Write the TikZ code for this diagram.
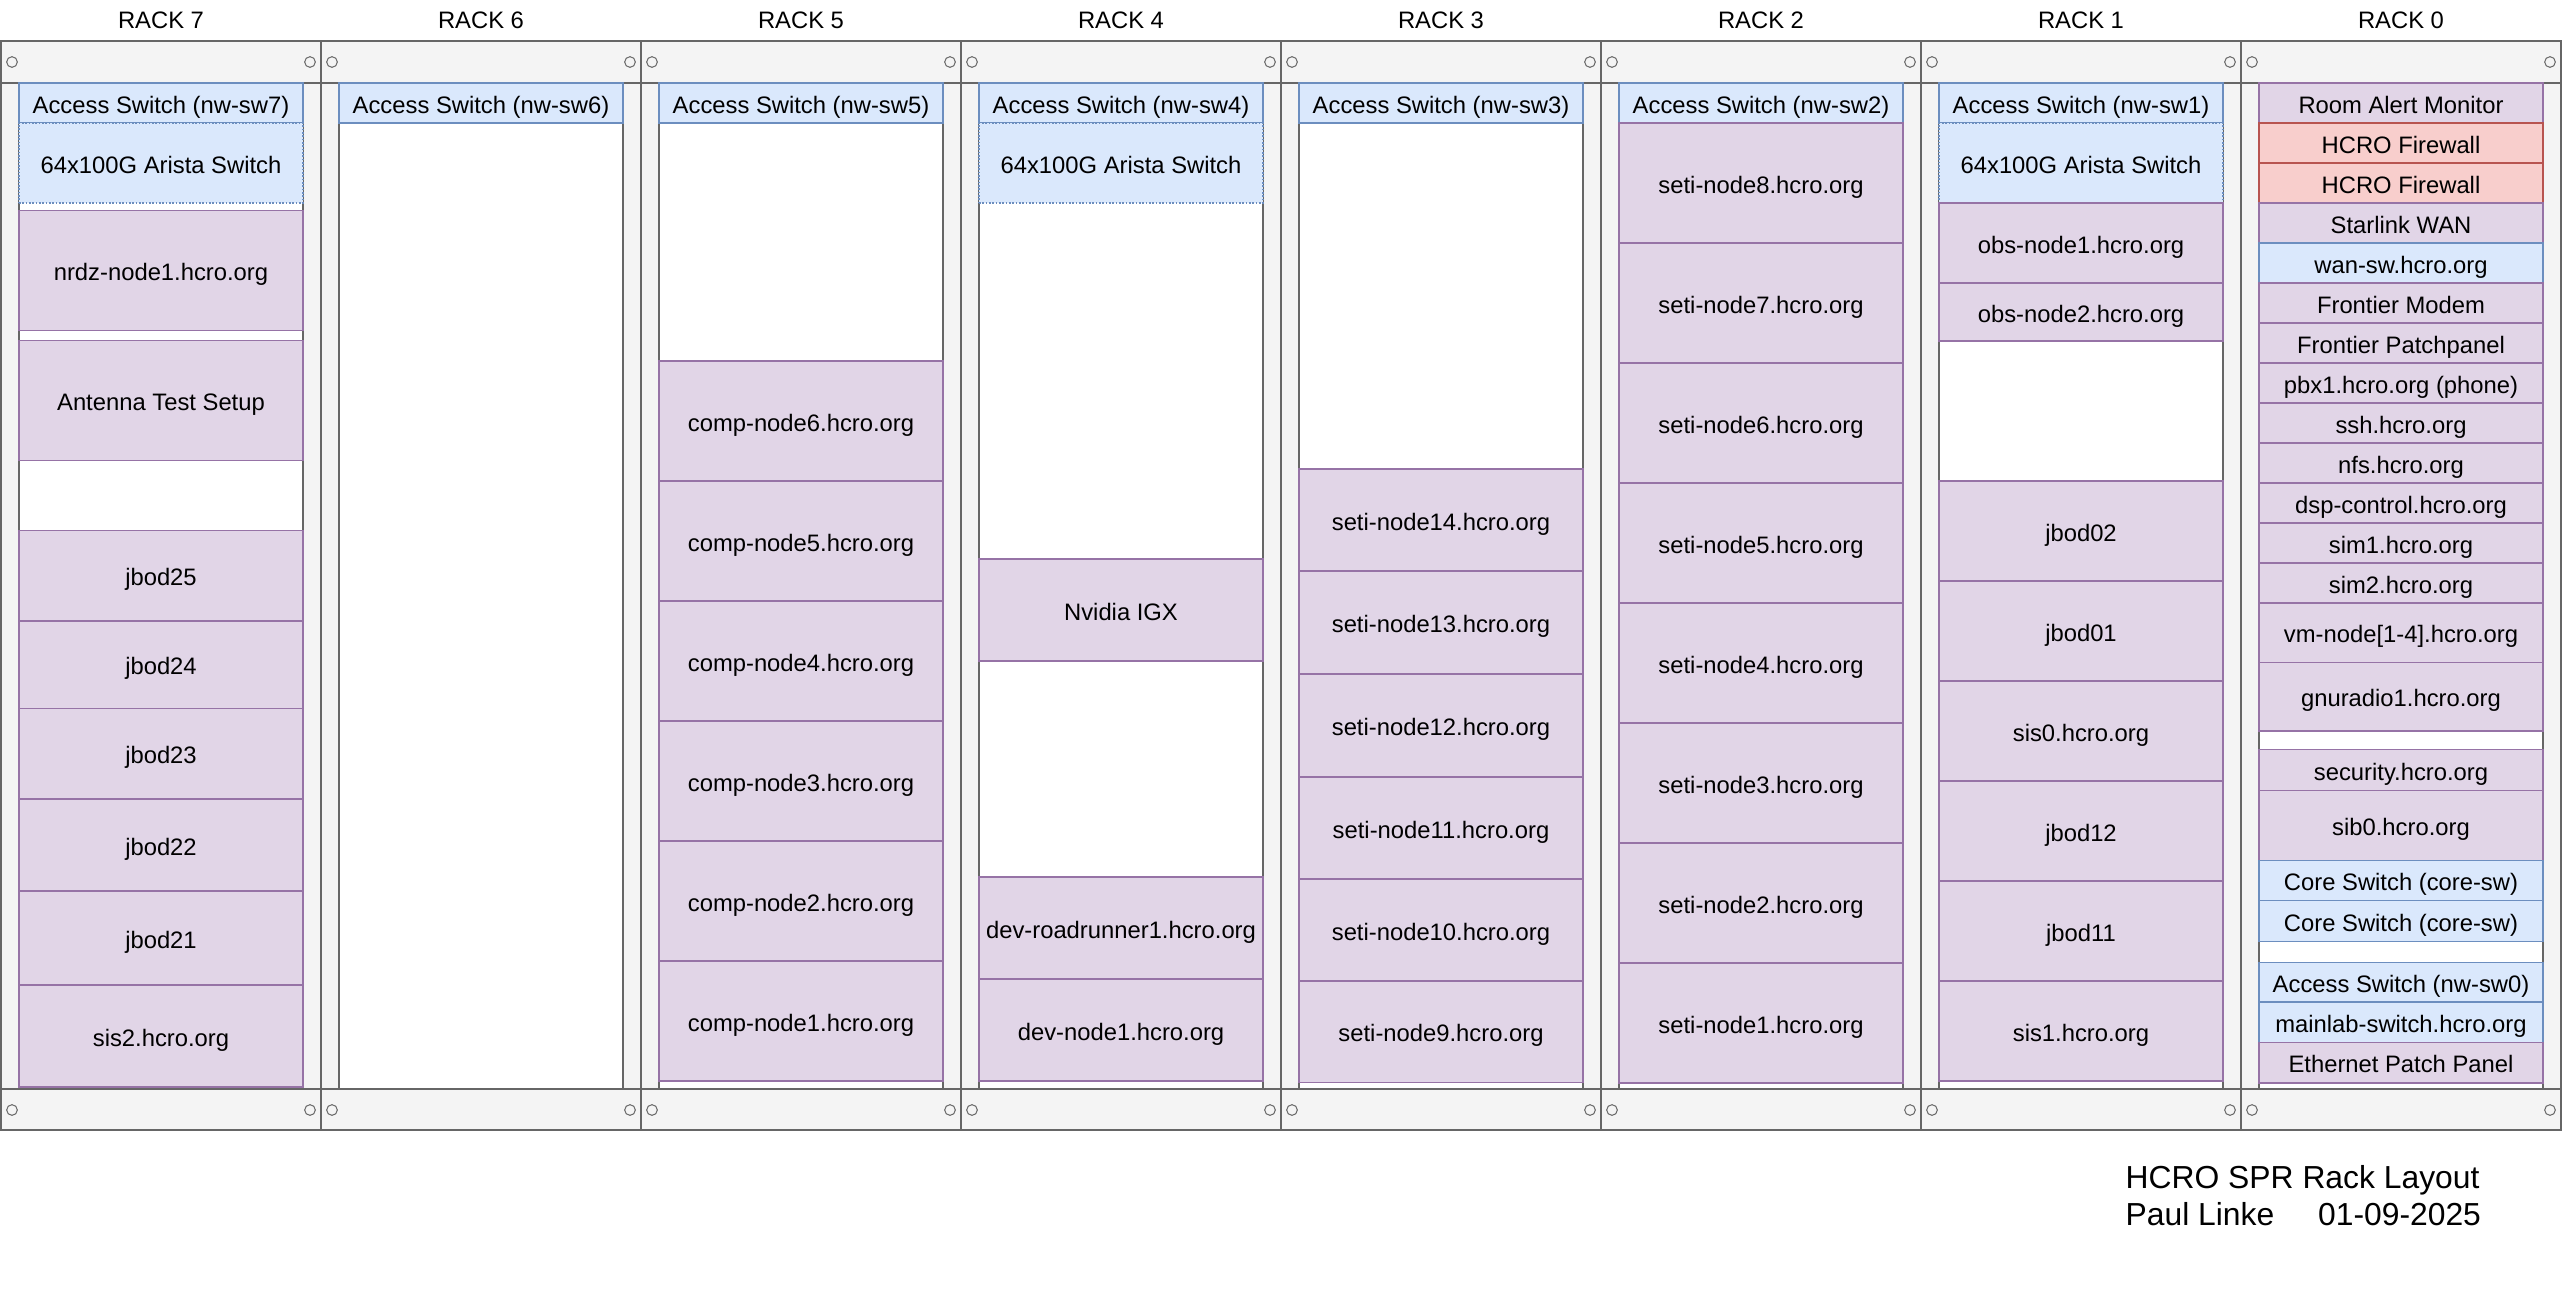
\documentclass[tikz,border=0pt]{standalone}
\usepackage{fontspec}
\setmainfont{Liberation Sans}
\definecolor{railfill}{HTML}{F4F4F4}
\definecolor{framec}{HTML}{666666}
\definecolor{purf}{HTML}{E1D5E7}
\definecolor{purd}{HTML}{9673A6}
\definecolor{bluf}{HTML}{DAE8FC}
\definecolor{blud}{HTML}{6C8EBF}
\definecolor{redf}{HTML}{F8CECC}
\definecolor{redd}{HTML}{B85450}
\tikzset{
  devbox/.style={draw, inner sep=0pt, line width=0.4pt, text=black,
    minimum width=85.2pt, text height=0.6em, text depth=0pt,
    font=\fontsize{7.14}{8.5}\selectfont},
  pur/.style={fill=purf, draw=purd},
  blu/.style={fill=bluf, draw=blud},
  bludot/.style={fill=bluf, draw=blud, dash pattern=on 0.5pt off 0.5pt},
  redbox/.style={fill=redf, draw=redd},
  racklab/.style={anchor=base, inner sep=0pt, text=black,
    font=\fontsize{7.14}{8.5}\selectfont},
  titletext/.style={anchor=base west, inner sep=0pt, text=black,
    font=\fontsize{9.55}{11}\selectfont},
  framel/.style={draw=framec, line width=0.6pt},
  holel/.style={draw=framec, line width=0.3pt},
}
\newcommand\dev[6][pur]{%
  \pgfmathsetmacro\xc{#3+160}\pgfmathsetmacro\yc{(#4+#5)/2}%
  \pgfmathsetmacro\hh{(#5-#4)*0.3}%
  \node[devbox,#1,minimum height=\hh pt] (#2) at (\xc,\yc) {#6};}
\begin{document}
\begin{tikzpicture}[x=0.3pt,y=-0.3pt]
\useasboundingbox (0,0) rectangle (2562,1290);
\fill[white] (0,0) rectangle (2562,1290);
% racks
\foreach \p/\n in {0/7,1/6,2/5,3/4,4/3,5/2,6/1,7/0}{
  \pgfmathsetmacro\xo{1+320*\p}
  \fill[railfill] (\xo,41) rectangle ({\xo+320},1130);
  \draw[framel] (\xo,41) rectangle ({\xo+320},1130);
  \draw[framel] (\xo,83) -- ({\xo+320},83) (\xo,1089) -- ({\xo+320},1089);
  \draw[draw=framec, line width=0.45pt, fill=white] ({\xo+18},83) rectangle ({\xo+302},1089);
  \foreach \yy in {62,1110}{
    \draw[holel] ({\xo+11},\yy) circle[radius=1.6pt];
    \draw[holel] ({\xo+309},\yy) circle[radius=1.6pt];
  }
  \node[racklab] (lab\n) at ({\xo+160},28.3) {RACK \n};
}
% rack 7
\dev[blu]{sw7}{1}{83}{123}{Access Switch (nw-sw7)}
\dev[bludot]{ar7}{1}{123}{203}{64x100G Arista Switch}
\dev{nrdz}{1}{210.7}{330.7}{nrdz-node1.hcro.org}
\dev{ant}{1}{340.7}{460.7}{Antenna Test Setup}
\dev{jb25}{1}{530.7}{621}{jbod25}
\dev{jb24}{1}{621}{708.7}{jbod24}
\dev{jb23}{1}{708.7}{799}{jbod23}
\dev{jb22}{1}{799}{891}{jbod22}
\dev{jb21}{1}{891}{985}{jbod21}
\dev{sis2}{1}{985}{1087}{sis2.hcro.org}
% rack 6
\dev[blu]{sw6}{321}{83}{123}{Access Switch (nw-sw6)}
% rack 5
\dev[blu]{sw5}{641}{83}{123}{Access Switch (nw-sw5)}
\dev{cn6}{641}{361}{481}{comp-node6.hcro.org}
\dev{cn5}{641}{481}{601}{comp-node5.hcro.org}
\dev{cn4}{641}{601}{721}{comp-node4.hcro.org}
\dev{cn3}{641}{721}{841}{comp-node3.hcro.org}
\dev{cn2}{641}{841}{961}{comp-node2.hcro.org}
\dev{cn1}{641}{961}{1081}{comp-node1.hcro.org}
% rack 4
\dev[blu]{sw4}{961}{83}{123}{Access Switch (nw-sw4)}
\dev[bludot]{ar4}{961}{123}{203}{64x100G Arista Switch}
\dev{igx}{961}{559}{661}{Nvidia IGX}
\dev{drr}{961}{877}{979}{dev-roadrunner1.hcro.org}
\dev{dn1}{961}{979}{1081}{dev-node1.hcro.org}
% rack 3
\dev[blu]{sw3}{1281}{83}{123}{Access Switch (nw-sw3)}
\dev{sn14}{1281}{469}{571}{seti-node14.hcro.org}
\dev{sn13}{1281}{571}{673.5}{seti-node13.hcro.org}
\dev{sn12}{1281}{674.5}{777}{seti-node12.hcro.org}
\dev{sn11}{1281}{777}{879}{seti-node11.hcro.org}
\dev{sn10}{1281}{879}{981}{seti-node10.hcro.org}
\dev{sn9}{1281}{981}{1082.5}{seti-node9.hcro.org}
% rack 2
\dev[blu]{sw2}{1601}{83}{123}{Access Switch (nw-sw2)}
\dev{sn8}{1601}{123}{243}{seti-node8.hcro.org}
\dev{sn7}{1601}{243}{363}{seti-node7.hcro.org}
\dev{sn6}{1601}{363}{483}{seti-node6.hcro.org}
\dev{sn5}{1601}{483}{603}{seti-node5.hcro.org}
\dev{sn4}{1601}{603}{723}{seti-node4.hcro.org}
\dev{sn3}{1601}{723}{843}{seti-node3.hcro.org}
\dev{sn2}{1601}{843}{963}{seti-node2.hcro.org}
\dev{sn1}{1601}{963}{1083}{seti-node1.hcro.org}
% rack 1
\dev[blu]{sw1}{1921}{83}{123}{Access Switch (nw-sw1)}
\dev[bludot]{ar1}{1921}{123}{203}{64x100G Arista Switch}
\dev{obs1}{1921}{203}{283}{obs-node1.hcro.org}
\dev{obs2}{1921}{283}{341}{obs-node2.hcro.org}
\dev{jb02}{1921}{481}{581}{jbod02}
\dev{jb01}{1921}{581}{681}{jbod01}
\dev{sis0}{1921}{681}{781}{sis0.hcro.org}
\dev{jb12}{1921}{781}{881}{jbod12}
\dev{jb11}{1921}{881}{981}{jbod11}
\dev{sis1}{1921}{981}{1081}{sis1.hcro.org}
% rack 0
\dev{ram}{2241}{83}{123}{Room Alert Monitor}
\dev[redbox]{fw1}{2241}{123}{163}{HCRO Firewall}
\dev[redbox]{fw2}{2241}{163}{203}{HCRO Firewall}
\dev{star}{2241}{203}{243}{Starlink WAN}
\dev[blu]{wansw}{2241}{243}{283}{wan-sw.hcro.org}
\dev{fmod}{2241}{283}{323}{Frontier Modem}
\dev{fpp}{2241}{323}{363}{Frontier Patchpanel}
\dev{pbx}{2241}{363}{403}{pbx1.hcro.org (phone)}
\dev{ssh}{2241}{403}{443}{ssh.hcro.org}
\dev{nfs}{2241}{443}{483}{nfs.hcro.org}
\dev{dsp}{2241}{483}{523}{dsp-control.hcro.org}
\dev{sim1}{2241}{523}{563}{sim1.hcro.org}
\dev{sim2}{2241}{563}{603}{sim2.hcro.org}
\dev{vmn}{2241}{603}{662.4}{vm-node[1-4].hcro.org}
\dev{gnu}{2241}{662.4}{731}{gnuradio1.hcro.org}
\dev{sec}{2241}{749.8}{790.6}{security.hcro.org}
\dev{sib0}{2241}{790.6}{860.8}{sib0.hcro.org}
\dev[blu]{cs1}{2241}{860.8}{900.8}{Core Switch (core-sw)}
\dev[blu]{cs2}{2241}{900.8}{941.2}{Core Switch (core-sw)}
\dev[blu]{sw0}{2241}{962.4}{1002}{Access Switch (nw-sw0)}
\dev[blu]{mls}{2241}{1002}{1042.4}{mainlab-switch.hcro.org}
\dev{epp}{2241}{1042.4}{1082.9}{Ethernet Patch Panel}
% title
\node[titletext] (title1) at (2125,1188.3) {\makebox[106.6pt][l]{HCRO SPR Rack Layout}};
\node[titletext] (title2) at (2125,1225) {\makebox[106.6pt][l]{Paul Linke\hfill 01-09-2025}};
\end{tikzpicture}
\end{document}
